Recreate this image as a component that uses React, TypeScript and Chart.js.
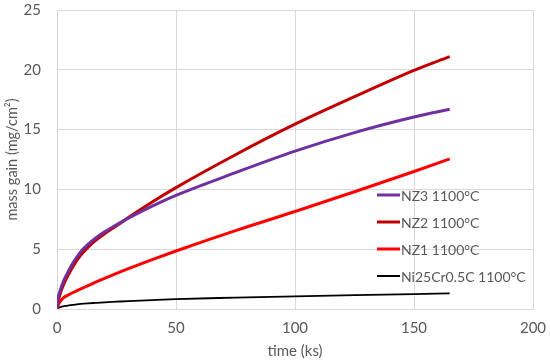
import React, { useEffect, useRef } from "react";
import { Chart, registerables } from "chart.js";

Chart.register(...registerables);

const timeKs = [0, 0.5, 1, 2, 3, 5, 7, 10, 13, 16, 20, 25, 30, 40, 50, 75, 100, 125, 150, 165];
const nz3 = [0, 0.95, 1.35, 1.95, 2.45, 3.25, 3.95, 4.8, 5.4, 5.9, 6.45, 7.05, 7.6, 8.6, 9.5, 11.4, 13.2, 14.75, 16.05, 16.7];
const nz2 = [0, 0.7, 1.05, 1.65, 2.15, 2.95, 3.65, 4.5, 5.15, 5.7, 6.3, 6.95, 7.65, 8.95, 10.15, 12.9, 15.45, 17.75, 19.95, 21.1];
const nz1 = [0, 0.32, 0.52, 0.8, 0.98, 1.2, 1.4, 1.68, 1.95, 2.22, 2.56, 2.97, 3.37, 4.13, 4.85, 6.55, 8.15, 9.8, 11.5, 12.55];
const ni25 = [0, 0.08, 0.13, 0.19, 0.24, 0.3, 0.35, 0.42, 0.47, 0.51, 0.56, 0.61, 0.66, 0.75, 0.83, 0.95, 1.06, 1.16, 1.25, 1.3];

const seriesNames = ["NZ3 1100°C", "NZ2 1100°C", "NZ1 1100°C", "Ni25Cr0.5C 1100°C"];
const seriesColors = ["#7030a0", "#c00000", "#ff0000", "#000000"];
const seriesWidths = [3, 3, 3, 1.8];
const seriesValues = [nz3, nz2, nz1, ni25];

const xTicks = [0, 50, 100, 150, 200];
const yTicks = [0, 5, 10, 15, 20, 25];

const FONT = "Lato, 'Open Sans', sans-serif";
const TEXT = "#595959";
const GRID = "#d9d9d9";

const legendPlugin = {
  id: "insideLegend",
  afterDraw(chart: any) {
    const ctx = chart.ctx;
    const area = chart.chartArea;
    const x0 = area.right - 156;
    const yStart = area.top + 185;
    const step = 27;
    ctx.save();
    ctx.font = `14px ${FONT}`;
    ctx.textBaseline = "middle";
    ctx.textAlign = "left";
    chart.data.datasets.forEach((ds: any, i: number) => {
      const y = yStart + i * step;
      ctx.strokeStyle = ds.borderColor;
      ctx.lineWidth = i === 3 ? 2 : 3;
      ctx.beginPath();
      ctx.moveTo(x0, y);
      ctx.lineTo(x0 + 23, y);
      ctx.stroke();
      ctx.fillStyle = TEXT;
      ctx.fillText(ds.label, x0 + 24, y + 1);
    });
    ctx.restore();
  },
};

export default function App() {
  const ref = useRef<HTMLCanvasElement>(null);
  useEffect(() => {
    document.body.style.margin = "0";
    const canvas = ref.current!;
    const chart = new Chart(canvas, {
      type: "line",
      data: {
        datasets: seriesValues.map((vals, i) => ({
          label: seriesNames[i],
          data: timeKs.map((t, j) => ({ x: t, y: vals[j] })),
          borderColor: seriesColors[i],
          backgroundColor: seriesColors[i],
          borderWidth: seriesWidths[i],
          pointRadius: 0,
          cubicInterpolationMode: "monotone",
          fill: false,
        })),
      },
      options: {
        animation: false,
        responsive: false,
        maintainAspectRatio: false,
        layout: { padding: { top: 10, right: 17, left: 0, bottom: 0 } },
        plugins: {
          legend: { display: false },
          tooltip: { enabled: false },
        },
        scales: {
          x: {
            type: "linear",
            min: 0,
            max: 200,
            afterBuildTicks: (s: any) => {
              s.ticks = xTicks.map((v) => ({ value: v }));
            },
            afterFit: (s: any) => {
              s.height = 55;
              s.paddingLeft = 0;
              s.paddingRight = 0;
            },
            grid: { color: GRID, lineWidth: 1, drawTicks: false },
            border: { color: GRID },
            ticks: { color: TEXT, font: { family: FONT, size: 15 }, padding: 10, maxRotation: 0 },
            title: {
              display: true,
              text: "time (ks)",
              color: TEXT,
              font: { family: FONT, size: 15 },
            },
          },
          y: {
            type: "linear",
            min: 0,
            max: 25,
            afterBuildTicks: (s: any) => {
              s.ticks = yTicks.map((v) => ({ value: v }));
            },
            afterFit: (s: any) => {
              s.width = 57;
              s.paddingTop = 0;
              s.paddingBottom = 0;
            },
            grid: { color: GRID, lineWidth: 1, drawTicks: false },
            border: { color: GRID },
            ticks: { color: TEXT, font: { family: FONT, size: 15 }, padding: 16 },
            title: {
              display: true,
              text: "mass gain (mg/cm²)",
              color: TEXT,
              font: { family: FONT, size: 14.5 },
            },
          },
        },
      } as any,
      plugins: [legendPlugin],
    });
    return () => chart.destroy();
  }, []);
  return (
    <div style={{ width: 550, height: 364 }}>
      <canvas ref={ref} width={550} height={364} style={{ width: 550, height: 364, display: "block" }} />
    </div>
  );
}
